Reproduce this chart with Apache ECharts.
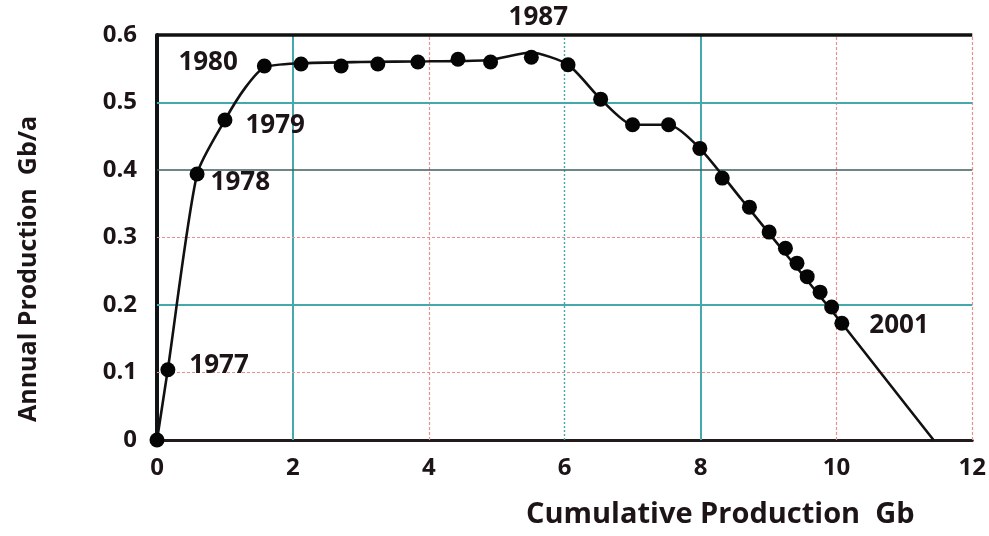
<!DOCTYPE html>
<html>
<head>
<meta charset="utf-8">
<script src="https://cdn.jsdelivr.net/npm/echarts@6/dist/echarts.min.js"></script>
<style>
html,body{margin:0;padding:0;background:#fff;}
#chart{width:989px;height:536px;}
</style>
</head>
<body>
<div id="chart"></div>
<script>
// ---- data ----
const years = [1976,1977,1978,1979,1980,1981,1982,1983,1984,1985,1986,1987,1988,1989,1990,1991,1992,1993,1994,1995,1996,1997,1998,1999,2000,2001];
const cumulativeGb = [0,0.16,0.59,1.0,1.58,2.12,2.71,3.25,3.84,4.43,4.91,5.51,6.05,6.53,7.0,7.53,7.99,8.32,8.72,9.01,9.25,9.42,9.57,9.76,9.93,10.08];
const annualGb = [0,0.104,0.394,0.474,0.554,0.557,0.554,0.557,0.560,0.564,0.560,0.567,0.556,0.505,0.467,0.467,0.432,0.388,0.345,0.308,0.284,0.262,0.242,0.219,0.197,0.173];
const fitX = [0,0.16,0.59,1.0,1.3,1.58,2.1,3.0,4.0,4.9,5.5,6.05,6.53,7.0,7.53,7.99,8.6,9.3,10.08,10.75,11.43];
const fitY = [0,0.105,0.394,0.474,0.522,0.552,0.558,0.560,0.561,0.563,0.574,0.556,0.505,0.467,0.467,0.432,0.357,0.270,0.173,0.087,0];
const labelledYears = [1977,1978,1979,1980,1987,2001];
const xTicks = [0,2,4,6,8,10,12];
const yTicks = [0,0.1,0.2,0.3,0.4,0.5,0.6];
const xTitle = 'Cumulative Production  Gb';
const yTitle = 'Annual Production  Gb/a';

// ---- styling ----
const FONT = '"Open Sans", "Noto Sans", sans-serif';
const TXT = '#1c1416';
const RED = {color:'#e89090', width:1.2, type:[3,2]};
const TEAL = {color:'#45a8ab', width:2, type:'solid'};
const TEAL_THIN = {color:'#45a8ab', width:1.4, type:[2,2]};
const DARK = {color:'#3f5d5e', width:1.6, type:'solid'};
const BLACK = {color:'#111', width:3.5, type:'solid'};
const xGridStyle = {2:TEAL, 4:RED, 6:TEAL_THIN, 8:TEAL, 10:RED, 12:RED};
const yGridStyle = {0.1:RED, 0.2:TEAL, 0.3:RED, 0.4:DARK, 0.5:TEAL, 0.6:BLACK};
const labelCfg = {
  1977:{position:'right', distance:14, offset:[0,-4]},
  1978:{position:'right', distance:6, offset:[0,9]},
  1979:{position:'right', distance:13, offset:[0,6]},
  1980:{position:'left', distance:19, offset:[0,-3]},
  1987:{position:'top', distance:19, offset:[7,0]},
  2001:{position:'right', distance:20, offset:[0,2]}
};

const gridMarks = [];
xTicks.forEach(v => { if (xGridStyle[v]) gridMarks.push({xAxis:v, lineStyle:xGridStyle[v]}); });
yTicks.forEach(v => { if (yGridStyle[v]) gridMarks.push({yAxis:v, lineStyle:yGridStyle[v]}); });

const pointData = cumulativeGb.map((x,i) => {
  const y = years[i];
  const item = {value:[x, annualGb[i]]};
  if (labelledYears.indexOf(y) >= 0) {
    item.label = Object.assign({show:true, formatter:String(y)}, labelCfg[y]);
  }
  return item;
});

const chart = echarts.init(document.getElementById('chart'), null, {renderer:'canvas'});
chart.setOption({
  animation:false,
  backgroundColor:'#fff',
  grid:{left:157, right:12, top:35, bottom:96, containLabel:false},
  xAxis:{
    type:'value', min:0, max:12, interval:2,
    axisLine:{show:true, onZero:false, lineStyle:{color:'#231a1b', width:3}},
    axisTick:{show:false},
    splitLine:{show:false},
    axisLabel:{color:TXT, fontFamily:FONT, fontWeight:700, fontSize:24, margin:16,
      formatter:v => xTicks.indexOf(v)>=0 ? String(v) : ''}
  },
  yAxis:{
    type:'value', min:0, max:0.6, interval:0.1,
    axisLine:{show:true, onZero:false, lineStyle:{color:'#0e1414', width:4}},
    axisTick:{show:false},
    splitLine:{show:false},
    axisLabel:{color:TXT, fontFamily:FONT, fontWeight:700, fontSize:24, margin:20,
      formatter:v => { const t = yTicks.find(k => Math.abs(k-v)<1e-9); return t===undefined ? '' : (t===0?'0':t.toFixed(1)); }}
  },
  graphic:[
    {type:'text', left:526, top:500, style:{text:xTitle, fill:TXT, font:'700 29px ' + FONT}},
    {type:'text', x:16, y:422, rotation:Math.PI/2, style:{text:yTitle, fill:TXT, font:'700 25px ' + FONT, textVerticalAlign:'top'}}
  ],
  series:[
    {
      type:'line', name:'grid', data:[], silent:true, z:1,
      markLine:{symbol:['none','none'], silent:true, z:1, label:{show:false}, animation:false, data:gridMarks}
    },
    {
      type:'line', name:'fit', data:fitX.map((x,i)=>[x, fitY[i]]),
      smooth:0.22, showSymbol:false, symbol:'none',
      lineStyle:{color:'#111', width:2.6}, z:3
    },
    {
      type:'scatter', name:'production', data:pointData,
      symbol:'circle', symbolSize:15,
      itemStyle:{color:'#050505', opacity:1},
      label:{show:false, color:TXT, fontFamily:FONT, fontWeight:700, fontSize:26},
      z:4
    }
  ]
});
</script>
</body>
</html>
